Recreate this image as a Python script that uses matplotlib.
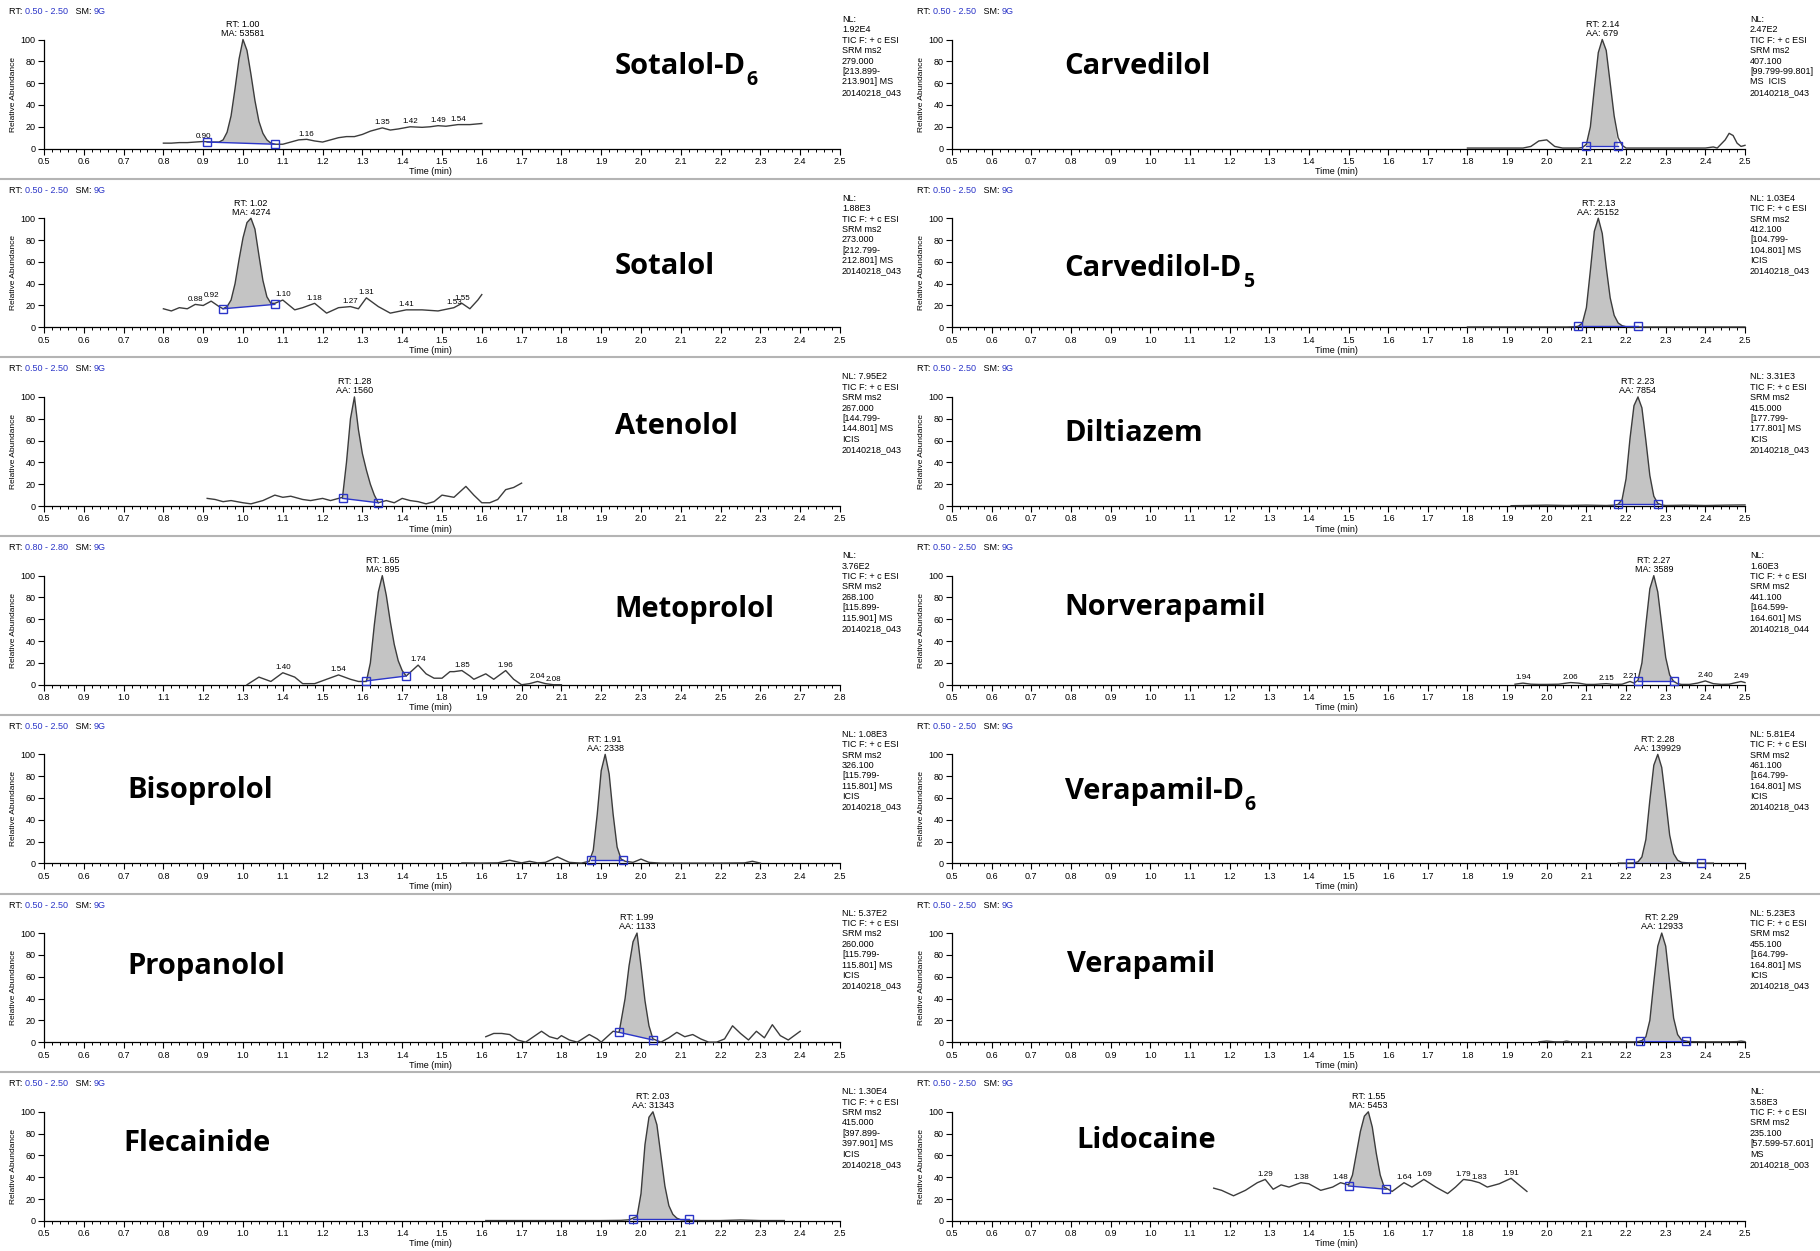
import numpy as np
import matplotlib
matplotlib.use("Agg")
import matplotlib.pyplot as plt
from matplotlib.lines import Line2D
from matplotlib.ticker import MultipleLocator, FormatStrFormatter

# ---- data ----
# panel order: row by row, left column then right column
names = ["Sotalol-D", "Carvedilol", "Sotalol", "Carvedilol-D", "Atenolol", "Diltiazem",
         "Metoprolol", "Norverapamil", "Bisoprolol", "Verapamil-D", "Propanolol", "Verapamil",
         "Flecainide", "Lidocaine"]
name_subs = ["6", "", "", "5", "", "", "", "", "", "6", "", "", "", ""]
rt_ranges = [(0.5, 2.5)] * 6 + [(0.8, 2.8)] + [(0.5, 2.5)] * 7
rts = [1.00, 2.14, 1.02, 2.13, 1.28, 2.23, 1.65, 2.27, 1.91, 2.28, 1.99, 2.29, 2.03, 1.55]
area_kind = ["MA", "AA", "MA", "AA", "AA", "AA", "MA", "MA", "AA", "AA", "AA", "AA", "AA", "MA"]
areas = [53581, 679, 4274, 25152, 1560, 7854, 895, 3589, 2338, 139929, 1133, 12933, 31343, 5453]

info = [
    "NL:\n1.92E4\nTIC F: + c ESI\nSRM ms2\n279.000\n[213.899-\n213.901] MS\n20140218_043",
    "NL:\n2.47E2\nTIC F: + c ESI\nSRM ms2\n407.100\n[99.799-99.801]\nMS  ICIS\n20140218_043",
    "NL:\n1.88E3\nTIC F: + c ESI\nSRM ms2\n273.000\n[212.799-\n212.801] MS\n20140218_043",
    "NL: 1.03E4\nTIC F: + c ESI\nSRM ms2\n412.100\n[104.799-\n104.801] MS\nICIS\n20140218_043",
    "NL: 7.95E2\nTIC F: + c ESI\nSRM ms2\n267.000\n[144.799-\n144.801] MS\nICIS\n20140218_043",
    "NL: 3.31E3\nTIC F: + c ESI\nSRM ms2\n415.000\n[177.799-\n177.801] MS\nICIS\n20140218_043",
    "NL:\n3.76E2\nTIC F: + c ESI\nSRM ms2\n268.100\n[115.899-\n115.901] MS\n20140218_043",
    "NL:\n1.60E3\nTIC F: + c ESI\nSRM ms2\n441.100\n[164.599-\n164.601] MS\n20140218_044",
    "NL: 1.08E3\nTIC F: + c ESI\nSRM ms2\n326.100\n[115.799-\n115.801] MS\nICIS\n20140218_043",
    "NL: 5.81E4\nTIC F: + c ESI\nSRM ms2\n461.100\n[164.799-\n164.801] MS\nICIS\n20140218_043",
    "NL: 5.37E2\nTIC F: + c ESI\nSRM ms2\n260.000\n[115.799-\n115.801] MS\nICIS\n20140218_043",
    "NL: 5.23E3\nTIC F: + c ESI\nSRM ms2\n455.100\n[164.799-\n164.801] MS\nICIS\n20140218_043",
    "NL: 1.30E4\nTIC F: + c ESI\nSRM ms2\n415.000\n[397.899-\n397.901] MS\nICIS\n20140218_043",
    "NL:\n3.58E3\nTIC F: + c ESI\nSRM ms2\n235.100\n[57.599-57.601]\nMS\n20140218_003",
]

sotalol_d6_t = [0.80, 0.82, 0.84, 0.86, 0.88, 0.90, 0.92, 0.94, 0.95, 0.96, 0.97, 0.98, 0.99, 1.00, 1.01,
                1.02, 1.03, 1.04, 1.05, 1.06, 1.07, 1.08, 1.10, 1.12, 1.14, 1.16, 1.18, 1.20, 1.22, 1.24,
                1.26, 1.28, 1.30, 1.32, 1.35, 1.37, 1.39, 1.42, 1.45, 1.47, 1.49, 1.51, 1.54, 1.57, 1.60]
sotalol_d6_y = [5, 5, 5.5, 5.5, 6, 6.5, 6, 6, 8, 15, 30, 55, 82, 100, 90,
                68, 44, 25, 14, 8, 5, 4, 4, 6, 8, 8.5, 7, 6, 8, 10,
                11, 11, 13, 16, 19, 17, 18, 20, 19.5, 20, 21, 20.5, 22, 22, 23]

carvedilol_t = [1.80, 1.85, 1.90, 1.94, 1.96, 1.98, 2.00, 2.02, 2.04, 2.06, 2.08, 2.09, 2.10, 2.11, 2.12,
                2.13, 2.14, 2.15, 2.16, 2.17, 2.18, 2.19, 2.20, 2.25, 2.30, 2.35, 2.40, 2.42, 2.43, 2.45,
                2.46, 2.47, 2.48, 2.49, 2.50]
carvedilol_y = [0.5, 0.5, 0.5, 0.5, 2, 7, 8, 2, 0.5, 0.5, 0.5, 1, 4, 20, 55,
                88, 100, 90, 60, 30, 10, 3, 0.5, 0.5, 0.5, 0.5, 0.5, 1.5, 0.5, 8,
                14, 12, 5, 2, 3]

sotalol_t = [0.80, 0.82, 0.84, 0.86, 0.88, 0.90, 0.92, 0.94, 0.95, 0.96, 0.97, 0.98, 0.99, 1.00, 1.01,
             1.02, 1.03, 1.04, 1.05, 1.06, 1.07, 1.08, 1.10, 1.13, 1.15, 1.18, 1.21, 1.24, 1.27, 1.29,
             1.31, 1.34, 1.37, 1.41, 1.45, 1.49, 1.53, 1.55, 1.57, 1.59, 1.60]
sotalol_y = [17, 15, 18, 17, 21, 20, 24, 19, 17, 19, 25, 40, 62, 82, 96,
             100, 90, 66, 43, 28, 22, 22, 25, 16, 18, 22, 13, 18, 19, 17,
             27, 19, 13, 16, 16, 15, 18, 22, 17, 25, 30]

carvedilol_d5_t = [1.80, 1.90, 2.00, 2.05, 2.07, 2.08, 2.09, 2.10, 2.11, 2.12, 2.13, 2.14, 2.15, 2.16,
                   2.17, 2.18, 2.19, 2.20, 2.22, 2.30, 2.40, 2.50]
carvedilol_d5_y = [0.3, 0.3, 0.3, 0.3, 0.5, 1, 4, 18, 52, 88, 100, 86, 55, 27,
                   11, 4, 1.5, 0.5, 0.3, 0.3, 0.3, 0.3]

atenolol_t = [0.91, 0.93, 0.95, 0.97, 1.00, 1.02, 1.05, 1.08, 1.10, 1.12, 1.15, 1.17, 1.20, 1.22, 1.25,
              1.26, 1.27, 1.28, 1.29, 1.30, 1.31, 1.32, 1.33, 1.34, 1.36, 1.38, 1.40, 1.42, 1.44, 1.46,
              1.48, 1.50, 1.53, 1.56, 1.58, 1.60, 1.62, 1.64, 1.66, 1.68, 1.70]
atenolol_y = [7, 6, 4, 5, 3, 2, 5, 10, 8, 9, 6, 5, 7, 5, 8,
              40, 80, 100, 70, 48, 33, 20, 10, 3, 5, 3, 7, 5, 4, 2,
              4, 10, 8, 18, 10, 3, 3, 6, 15, 17, 21]

diltiazem_t = [1.91, 1.95, 2.00, 2.05, 2.10, 2.15, 2.17, 2.18, 2.19, 2.20, 2.21, 2.22, 2.23, 2.24,
               2.25, 2.26, 2.27, 2.28, 2.29, 2.30, 2.35, 2.40, 2.45, 2.50]
diltiazem_y = [0.3, 0.5, 0.8, 0.5, 0.8, 0.5, 0.8, 1.5, 6, 25, 62, 92, 100, 90,
               60, 28, 9, 2.5, 1, 0.5, 0.8, 0.5, 0.8, 1]

metoprolol_t = [1.31, 1.34, 1.37, 1.40, 1.43, 1.45, 1.48, 1.51, 1.54, 1.57, 1.59, 1.61, 1.62, 1.63, 1.64,
                1.65, 1.66, 1.67, 1.68, 1.69, 1.70, 1.71, 1.74, 1.76, 1.78, 1.80, 1.82, 1.83, 1.85, 1.87,
                1.88, 1.91, 1.93, 1.96, 1.98, 2.00, 2.02, 2.04, 2.06, 2.08, 2.10]
metoprolol_y = [0, 7, 3, 11, 7, 1, 1, 5, 9, 5, 3, 3, 20, 55, 85,
                100, 82, 58, 37, 22, 13, 8, 18, 10, 6, 6, 12, 12, 13, 8,
                5, 10, 5, 13, 5, 0, 1, 3, 1, 0, 0]

norverapamil_t = [1.92, 1.94, 1.96, 1.98, 2.00, 2.03, 2.06, 2.08, 2.10, 2.12, 2.15, 2.17, 2.19, 2.21,
                  2.22, 2.23, 2.24, 2.25, 2.26, 2.27, 2.28, 2.29, 2.30, 2.31, 2.32, 2.33, 2.34, 2.36,
                  2.38, 2.40, 2.42, 2.44, 2.46, 2.49, 2.50]
norverapamil_y = [0.5, 1.5, 0.5, 0.3, 0.3, 0.5, 2, 1.5, 0.3, 0.3, 1, 0.3, 0.5, 3,
                  1.5, 4, 20, 55, 88, 100, 85, 55, 25, 9, 3, 1, 0.3, 0.3,
                  1.5, 3.5, 1, 0.3, 0.5, 3, 2]

bisoprolol_t = [1.55, 1.60, 1.64, 1.67, 1.70, 1.72, 1.74, 1.76, 1.79, 1.82, 1.85, 1.87, 1.88, 1.89, 1.90,
                1.91, 1.92, 1.93, 1.94, 1.95, 1.96, 1.98, 2.00, 2.02, 2.05, 2.10, 2.20, 2.26, 2.28, 2.30]
bisoprolol_y = [0.5, 0.3, 0.5, 3, 0.5, 2, 0.5, 1, 6, 1, 0.3, 2, 12, 45, 85,
                100, 82, 45, 15, 4, 2, 1, 4, 1, 0.3, 0.3, 0.3, 0.5, 2, 0.3]

verapamil_d6_t = [2.18, 2.20, 2.22, 2.23, 2.24, 2.25, 2.26, 2.27, 2.28, 2.29, 2.30, 2.31, 2.32, 2.33,
                  2.34, 2.36, 2.38, 2.40, 2.42]
verapamil_d6_y = [0.3, 0.3, 0.5, 1.5, 6, 22, 58, 90, 100, 88, 58, 26, 9, 3,
                  1, 0.5, 0.3, 0.3, 0.3]

propanolol_t = [1.61, 1.63, 1.65, 1.67, 1.69, 1.71, 1.73, 1.75, 1.77, 1.79, 1.80, 1.82, 1.84, 1.87, 1.89,
                1.90, 1.93, 1.945, 1.96, 1.97, 1.98, 1.99, 2.00, 2.01, 2.02, 2.03, 2.05, 2.07, 2.09, 2.11,
                2.13, 2.15, 2.17, 2.19, 2.21, 2.23, 2.25, 2.27, 2.29, 2.31, 2.33, 2.35, 2.37, 2.40]
propanolol_y = [5, 8, 8, 7, 2, 0, 5, 10, 5, 3, 6, 2, 0, 7, 3,
                0, 10, 9, 40, 70, 92, 100, 70, 38, 15, 3, 0, 4, 9, 5,
                7, 3, 0, 0, 3, 15, 8, 2, 10, 4, 16, 6, 2, 10]

verapamil_t = [1.98, 2.00, 2.02, 2.04, 2.05, 2.06, 2.10, 2.20, 2.22, 2.23, 2.24, 2.25, 2.26, 2.27,
               2.28, 2.29, 2.30, 2.31, 2.32, 2.33, 2.34, 2.35, 2.36, 2.40, 2.45, 2.48, 2.49, 2.50]
verapamil_y = [0.3, 1, 0.3, 0.3, 1, 0.3, 0.3, 0.3, 0.3, 0.5, 1.5, 5, 20, 55,
               88, 100, 88, 55, 22, 7, 2, 1, 0.5, 0.3, 0.3, 0.5, 1, 0.5]

flecainide_t = [1.61, 1.70, 1.80, 1.90, 1.95, 1.97, 1.99, 2.00, 2.01, 2.02, 2.03, 2.04, 2.05, 2.06,
                2.07, 2.08, 2.09, 2.10, 2.12, 2.15, 2.20, 2.25, 2.30, 2.36]
flecainide_y = [0.3, 0.3, 0.3, 0.3, 0.5, 1, 4, 25, 70, 95, 100, 88, 60, 32,
                14, 6, 2.5, 1, 0.5, 0.3, 0.3, 0.8, 0.3, 0.3]

lidocaine_t = [1.16, 1.18, 1.21, 1.24, 1.27, 1.29, 1.31, 1.33, 1.35, 1.38, 1.40, 1.43, 1.46, 1.48, 1.50,
               1.51, 1.52, 1.53, 1.54, 1.55, 1.56, 1.57, 1.58, 1.59, 1.61, 1.64, 1.66, 1.69, 1.72, 1.75,
               1.77, 1.79, 1.81, 1.83, 1.85, 1.88, 1.91, 1.93, 1.95]
lidocaine_y = [30, 28, 23, 28, 35, 38, 29, 33, 31, 35, 34, 28, 31, 35, 33,
               42, 62, 82, 96, 100, 86, 62, 42, 31, 27, 35, 31, 38, 31, 25,
               31, 38, 37, 35, 31, 34, 39, 33, 27]

traces = [(sotalol_d6_t, sotalol_d6_y), (carvedilol_t, carvedilol_y), (sotalol_t, sotalol_y),
          (carvedilol_d5_t, carvedilol_d5_y), (atenolol_t, atenolol_y), (diltiazem_t, diltiazem_y),
          (metoprolol_t, metoprolol_y), (norverapamil_t, norverapamil_y), (bisoprolol_t, bisoprolol_y),
          (verapamil_d6_t, verapamil_d6_y), (propanolol_t, propanolol_y), (verapamil_t, verapamil_y),
          (flecainide_t, flecainide_y), (lidocaine_t, lidocaine_y)]

# integration start / end points (time, abundance)
peak_bounds = [((0.91, 6), (1.08, 4)), ((2.10, 2.5), (2.18, 2.5)), ((0.95, 17), (1.08, 21)),
               ((2.08, 0.8), (2.23, 0.8)), ((1.25, 7), (1.34, 3)), ((2.18, 1.5), (2.28, 1.5)),
               ((1.61, 3.5), (1.71, 8)), ((2.23, 3), (2.32, 3)), ((1.875, 3), (1.955, 3)),
               ((2.21, 0.8), (2.39, 0.8)), ((1.945, 9), (2.03, 2)), ((2.235, 1.5), (2.35, 1.5)),
               ((1.98, 1.5), (2.12, 1.5)), ((1.50, 32), (1.595, 29))]

# labelled minor peaks
minor_peaks = [[0.90, 1.16, 1.35, 1.42, 1.49, 1.54], [],
               [0.88, 0.92, 1.10, 1.18, 1.27, 1.31, 1.41, 1.53, 1.55], [],
               [], [],
               [1.40, 1.54, 1.74, 1.85, 1.96, 2.04, 2.08], [1.94, 2.06, 2.15, 2.21, 2.40, 2.49],
               [], [], [], [], [],
               [1.29, 1.38, 1.48, 1.64, 1.69, 1.79, 1.83, 1.91]]

# where the big compound names sit (axes fraction: left edge, vertical centre)
name_pos = [(0.717, 0.75), (0.142, 0.75), (0.717, 0.56), (0.142, 0.54), (0.717, 0.73), (0.142, 0.665),
            (0.717, 0.69), (0.142, 0.71), (0.105, 0.67), (0.142, 0.66), (0.105, 0.69), (0.145, 0.71),
            (0.100, 0.71), (0.157, 0.735)]

# ---- layout ----
W, H = 1820, 1251
ROW_H = H / 7
col_x = [(44, 840), (952, 1745)]
info_x = [842, 1750]
hdr_x = [9, 917]
SMALL = ["Liberation Sans Narrow", "Liberation Sans", "DejaVu Sans"]
BIG = ["Open Sans", "DejaVu Sans"]
BLUE = "#2b35c8"
TRACE = "#3c3c3c"

fig = plt.figure(figsize=(W / 100, H / 100), dpi=100)

for k in range(1, 7):
    yy = 1 - k * ROW_H / H
    fig.add_artist(Line2D([0, 1], [yy, yy], color="#b4b4b4", lw=1.5))

for i in range(14):
    row, col = divmod(i, 2)
    x0, x1 = col_x[col]
    ax = fig.add_axes([x0 / W, 1 - (148.6 + ROW_H * row) / H, (x1 - x0) / W, 109.1 / H])
    lo, hi = rt_ranges[i]
    ax.set_xlim(lo, hi)
    ax.set_ylim(0, 100)
    for s in ("top", "right"):
        ax.spines[s].set_visible(False)
    for s in ("left", "bottom"):
        ax.spines[s].set_linewidth(0.9)
    ax.xaxis.set_major_locator(MultipleLocator(0.1))
    ax.xaxis.set_minor_locator(MultipleLocator(0.02))
    ax.xaxis.set_major_formatter(FormatStrFormatter("%.1f"))
    ax.yaxis.set_major_locator(MultipleLocator(20))
    ax.tick_params(axis="both", which="major", length=4, width=0.8, labelsize=6.5, pad=2)
    ax.tick_params(axis="x", which="minor", length=2.5, width=0.7)
    for lab in ax.get_xticklabels() + ax.get_yticklabels():
        lab.set_family(SMALL)
    ax.set_ylabel("Relative Abundance", fontsize=6, family=SMALL)
    ax.yaxis.set_label_coords(-0.034, 0.5)
    ax.set_xlabel("Time (min)", fontsize=6.5, family=SMALL)
    ax.xaxis.set_label_coords(0.485, -0.17)

    t, y = np.array(traces[i][0]), np.array(traces[i][1])
    (ta, ya), (tb, yb) = peak_bounds[i]
    inside = (t > ta) & (t < tb)
    ax.fill(np.r_[ta, t[inside], tb], np.r_[ya, y[inside], yb], color="#c4c4c4", lw=0, zorder=2)
    ax.plot(t, y, color=TRACE, lw=1.0, zorder=3, clip_on=False)
    ax.plot([ta, tb], [ya, yb], color=BLUE, lw=1.0, zorder=4)
    ax.plot([ta, tb], [ya, yb], "s", mfc="none", mec=BLUE, mew=1.0, ms=6, zorder=5, clip_on=False)

    ax.text(rts[i], 101.5, f"RT: {rts[i]:.2f}\n{area_kind[i]}: {areas[i]}", ha="center", va="bottom",
            fontsize=6.5, family=SMALL, linespacing=1.0, clip_on=False)
    for mp in minor_peaks[i]:
        ax.text(mp, np.interp(mp, t, y) + 1.5, f"{mp:.2f}", ha="center", va="bottom",
                fontsize=5.8, family=SMALL)

    nx, ny = name_pos[i]
    nm = ax.text(nx, ny, names[i], transform=ax.transAxes, ha="left", va="center",
                 fontsize=21, fontweight="bold", family=BIG)
    if name_subs[i]:
        ax.annotate(name_subs[i], xy=(1, 0), xycoords=nm, xytext=(0.5, 1), textcoords="offset points",
                    ha="left", va="center", fontsize=14, fontweight="bold", family=BIG)

    fig.text(info_x[col] / W, 1 - (row * ROW_H + 15) / H, info[i], ha="left", va="top",
             fontsize=6.5, family=SMALL, linespacing=1.2)

    # header line: "RT: 0.50 - 2.50  SM: 9G"
    hy = 1 - (row * ROW_H + 11.5) / H
    prev = fig.text(hdr_x[col] / W, hy, "RT: ", ha="left", va="center", fontsize=6.5, family=SMALL)
    for s, c in [(f"{lo:.2f} - {hi:.2f}", BLUE), ("   SM: ", "black"), ("9G", BLUE)]:
        prev = ax.annotate(s, xy=(1, 0.5), xycoords=prev, xytext=(0, 0), textcoords="offset points",
                           ha="left", va="center", fontsize=6.5, family=SMALL, color=c)

fig.savefig("out.png", dpi=100)
